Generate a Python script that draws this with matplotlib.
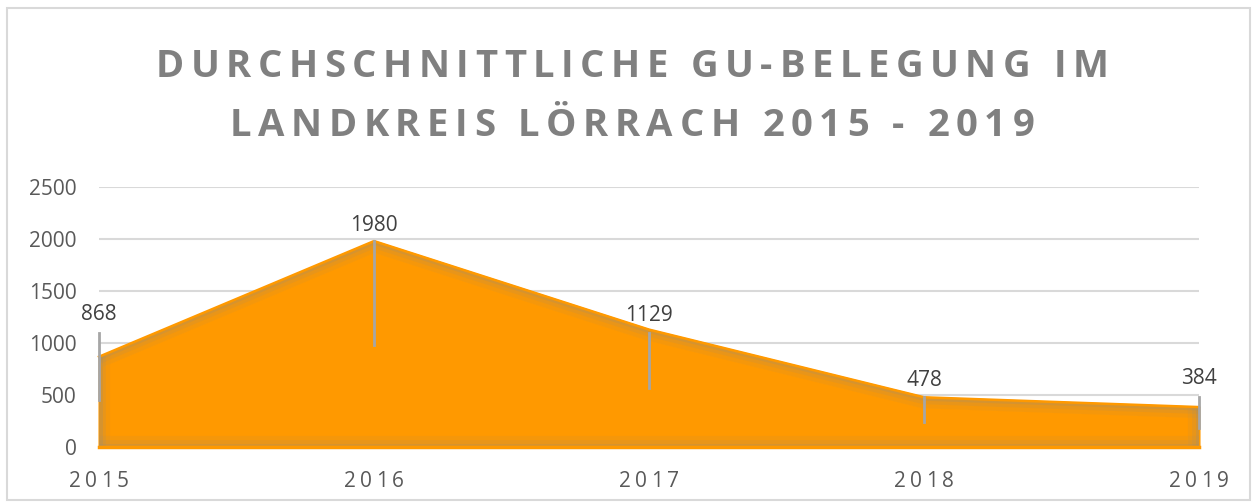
import matplotlib
matplotlib.use("Agg")
import matplotlib.pyplot as plt
from matplotlib.patches import Rectangle
from matplotlib.font_manager import FontProperties, findfont
from matplotlib.ft2font import FT2Font

years = [2015, 2016, 2017, 2018, 2019]
values = [868, 1980, 1129, 478, 384]
labels = ["868", "1980", "1129", "478", "384"]
label_offsets = [42, 16, 14, 17, 29]  # px above point
leader_top = [1096, 1980, 1096, 478, 480]
leader_bottom = [452, 980, 567, 240, 183]
yticks = [0, 500, 1000, 1500, 2000, 2500]
title_lines = ["DURCHSCHNITTLICHE GU-BELEGUNG IM", "LANDKREIS LÖRRACH 2015 - 2019"]

W, H = 1258, 504
DPI = 100
fig = plt.figure(figsize=(W / DPI, H / DPI), dpi=DPI)
fig.patch.set_facecolor("white")
fig.add_artist(Rectangle((7 / W, 4 / H), 1243 / W, 492 / H, transform=fig.transFigure,
                         fill=False, edgecolor="#D9D9D9", linewidth=1.5))


def advances(s, family, weight, size_pt):
    path = findfont(FontProperties(family=family, weight=weight))
    f = FT2Font(path)
    f.set_size(size_pt, DPI)
    out = []
    for c in s:
        g = f.load_char(ord(c))
        out.append(g.linearHoriAdvance / 65536.0)
    return out


def spaced_positions(s, family, weight, size_pt, spacing_px):
    adv = advances(s, family, weight, size_pt)
    total = sum(adv) + spacing_px * (len(s) - 1)
    x = -total / 2.0
    pos = []
    for a in adv:
        pos.append(x)
        x += a + spacing_px
    return pos


ax = fig.add_axes([99 / W, 1 - 447 / H, 1100 / W, 260 / H])
ax.set_xlim(2015, 2019)
ax.set_ylim(0, 2500)
for s in ax.spines.values():
    s.set_visible(False)
ax.set_yticks(yticks)
ax.set_yticklabels([str(v) for v in yticks])
ax.set_xticks(years)
ax.set_xticklabels([])
ax.tick_params(length=0, labelsize=15, colors="#595959")
ax.tick_params(axis="y", pad=16)
for t in ax.get_yticklabels():
    t.set_fontfamily("Open Sans")
ax.grid(axis="y", color="#D9D9D9", linewidth=1.5)
ax.set_axisbelow(True)

# spaced x tick labels
for yr in years:
    s = str(yr)
    pos = spaced_positions(s, "Open Sans", "normal", 15, 4)
    for c, px in zip(s, pos):
        ax.annotate(c, xy=(yr, 0), xycoords=("data", "axes fraction"),
                    xytext=(px * 72 / DPI, -40 * 72 / DPI), textcoords="offset points",
                    ha="left", va="baseline", fontsize=15, color="#595959",
                    family="Open Sans", annotation_clip=False)

poly = ax.fill_between(years, values, 0, color="#FF9900", edgecolor="#FF9900",
                       linewidth=1.5, zorder=2, clip_on=False)
clip = poly.get_paths()[0]
# inner grey glow along the edges
for lw, a in [(16, 0.08), (10, 0.12), (5, 0.2)]:
    ln, = ax.plot(years, values, color="#8C8C8C", linewidth=lw, alpha=a, zorder=3,
                  solid_capstyle="butt", solid_joinstyle="miter")
    ln.set_clip_path(clip, ax.transData)
    for xv in [years[0], years[-1]]:
        vl = ax.axvline(xv, color="#8C8C8C", linewidth=lw, alpha=a, zorder=3)
        vl.set_clip_path(clip, ax.transData)
    hl = ax.axhline(0, color="#8C8C8C", linewidth=lw, alpha=a, zorder=3)
    hl.set_clip_path(clip, ax.transData)
ax.plot(years, values, color="#FF9900", linewidth=1.8, zorder=4, clip_on=False)
ax.plot([years[0], years[-1]], [0, 0], color="#FF9900", linewidth=2.5, zorder=4, clip_on=False)

for x, top, bot in zip(years, leader_top, leader_bottom):
    ax.plot([x, x], [bot, top], color="#A6A6A6", linewidth=2, zorder=5, clip_on=False)

for x, v, lab, off in zip(years, values, labels, label_offsets):
    ax.annotate(lab, (x, v), xytext=(0, off * 72 / DPI), textcoords="offset points",
                ha="center", va="center", fontsize=15, color="#404040",
                family="Open Sans", zorder=6, annotation_clip=False)

# letter-spaced title
baselines = [77, 136]
for line, base in zip(title_lines, baselines):
    pos = spaced_positions(line, "Open Sans", "bold", 27.5, 6.5)
    for c, px in zip(line, pos):
        fig.text((632 + px) / W, 1 - base / H, c, ha="left", va="baseline",
                 fontsize=27.5, fontweight="bold", color="#808080", family="Open Sans")

fig.savefig("out.png", dpi=DPI)
